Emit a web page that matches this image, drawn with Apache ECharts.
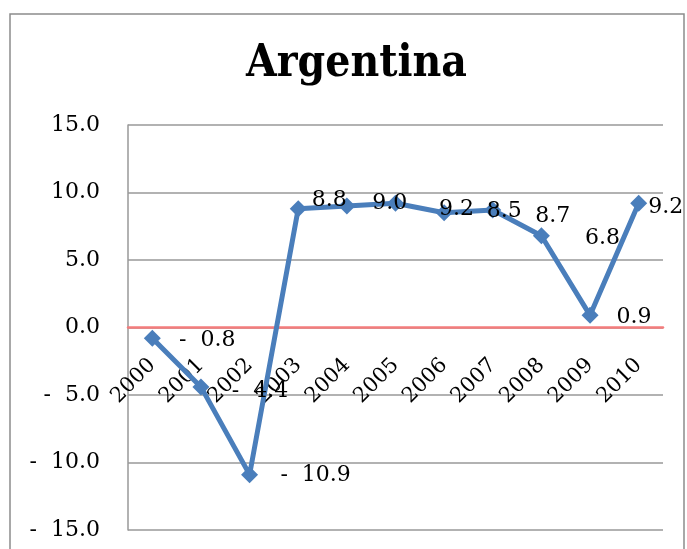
<!DOCTYPE html>
<html><head><meta charset="utf-8">
<script src="https://cdn.jsdelivr.net/npm/echarts@6/dist/echarts.min.js"></script>
<style>html,body{margin:0;padding:0;background:#fff}#c{width:687px;height:549px}</style>
</head><body><div id="c"></div>
<script>
const title = 'Argentina';
const years = ['2000','2001','2002','2003','2004','2005','2006','2007','2008','2009','2010'];
const growth = [-0.8, -4.4, -10.9, 8.8, 9.0, 9.2, 8.5, 8.7, 6.8, 0.9, 9.2];
const yTicks = {min: -15, max: 15, interval: 5};
// label placement (styling only, px relative to each point)
const labelOffsets = [[55,2],[59,4],[66,1],[31,-8],[43,-3],[61,6],[60,-1],[60,6],[61,3],[44,2],[27,4]];

function fmt(v){ return v < 0 ? '-  ' + Math.abs(v).toFixed(1) : v.toFixed(1); }
const FONT = 'DejaVu Serif';
const chart = echarts.init(document.getElementById('c'));
chart.setOption({
  animation: false,
  backgroundColor: '#fff',
  graphic: [{type:'rect', shape:{x:10,y:14,width:674,height:560}, style:{fill:'none', stroke:'#8c8c8c', lineWidth:1.5}, silent:true}],
  title: {text: title, left: 241, top: 38, textStyle:{fontFamily: 'DejaVu Serif Condensed', fontSize: 44, fontWeight:'bold', color:'#000'}},
  grid: {left: 128, right: 24, top: 125, bottom: 19, containLabel: false, outerBoundsMode: 'none'},
  xAxis: {
    type: 'category', data: years, boundaryGap: true,
    axisLine: {onZero: true, lineStyle:{color:'#f47c7c', width: 2.5}},
    axisTick: {show: false},
    axisLabel: {rotate: 45, margin: -168, fontFamily: FONT, fontSize: 21, color:'#000', interval: 0}
  },
  yAxis: {
    type: 'value', min: yTicks.min, max: yTicks.max, interval: yTicks.interval,
    axisLine: {show: true, lineStyle:{color:'#999', width:1.5}},
    axisTick: {show:false},
    splitLine: {lineStyle:{color:'#999', width:1.5}},
    axisLabel: {margin: 28, fontFamily: FONT, fontSize: 22, color:'#000', formatter: fmt}
  },
  series: [{
    type: 'line',
    data: growth.map((v,i)=>({value:v, label:{position:'inside', offset: labelOffsets[i]}})),
    symbol: 'diamond', symbolSize: 17,
    lineStyle: {color:'#4a7ebb', width: 5},
    itemStyle: {color:'#4a7ebb'},
    label: {show: true, fontFamily: FONT, fontSize: 22, color:'#000', formatter: p => fmt(p.value)}
  }]
});
</script></body></html>
